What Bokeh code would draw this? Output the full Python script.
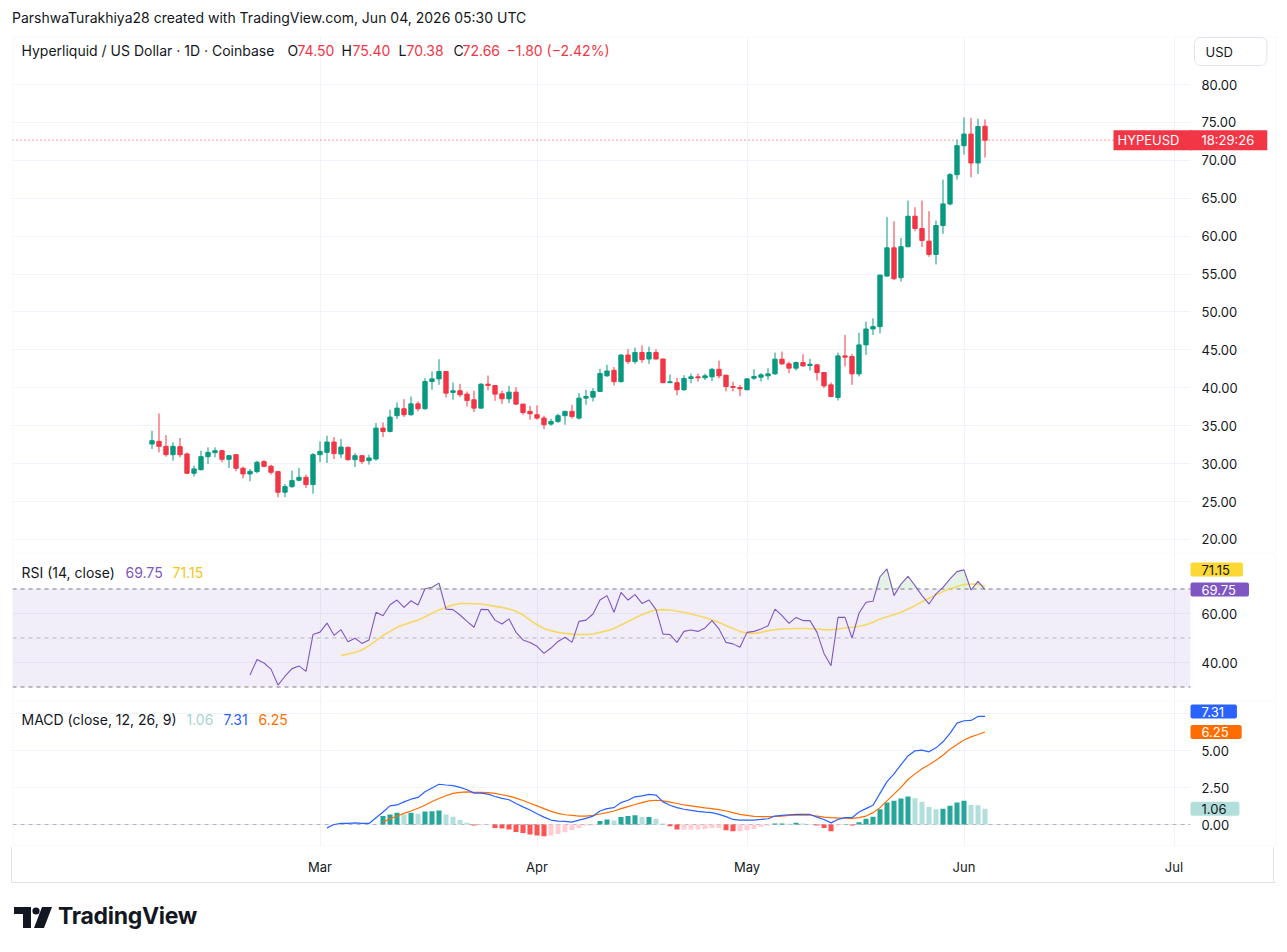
import math
import numpy as np
import pandas as pd
from bokeh.plotting import figure
from bokeh.layouts import column
from bokeh.models import (Range1d, FixedTicker, DatetimeTickFormatter, Grid, Label, Span,
                          BoxAnnotation, ColumnDataSource, Div)
from bokeh.core.properties import value
from bokeh.embed import file_html
from bokeh.resources import INLINE

# ------------------------------------------------------------------ data
start_date = "2026-02-05"
opens = [32.59, 32.94, 32.28, 31.18, 32.24, 31.27, 28.73, 29.21, 30.92, 31.45,
         31.71, 30.57, 31.18, 29.39, 28.64, 28.95, 30.26, 29.65, 28.95, 26.23,
         26.97, 27.81, 28.20, 27.24, 31.18, 31.49, 32.85, 31.27, 32.15, 30.53,
         31.05, 30.39, 30.61, 34.69, 34.25, 36.32, 37.24, 36.45, 37.89, 37.24,
         40.83, 41.18, 42.15, 39.39, 39.61, 39.17, 38.42, 37.32, 40.48, 40.31,
         39.21, 38.55, 39.43, 37.85, 36.89, 36.45, 36.01, 35.22, 35.57, 36.32,
         36.89, 36.01, 38.64, 38.77, 39.53, 41.58, 42.31, 40.81, 44.32, 43.46,
         44.66, 43.80, 44.66, 43.80, 40.68, 40.68, 39.74, 41.24, 41.45, 41.32,
         41.45, 42.44, 41.67, 40.17, 40.04, 39.74, 41.27, 41.40, 41.58, 41.84,
         43.77, 43.16, 42.59, 43.33, 42.94, 43.03, 42.02, 40.39, 38.73, 44.21,
         44.12, 41.84, 45.66, 47.76, 48.07, 54.74, 58.46, 54.52, 58.60, 62.63,
         61.01, 59.34, 57.59, 61.40, 64.25, 68.11, 71.93, 73.46, 69.65, 74.50]
highs = [34.34, 36.62, 33.77, 32.81, 33.38, 31.49, 29.74, 31.71, 32.15, 32.15,
         31.80, 31.10, 31.27, 29.61, 29.30, 30.39, 30.48, 29.87, 29.00, 27.32,
         29.08, 29.43, 28.55, 31.40, 32.94, 33.68, 33.51, 33.25, 32.28, 31.40,
         31.05, 31.18, 35.35, 35.44, 37.11, 38.07, 38.51, 38.86, 38.20, 41.27,
         42.15, 43.77, 42.20, 40.70, 40.53, 39.52, 39.61, 40.61, 41.62, 40.35,
         39.65, 40.26, 40.09, 37.90, 37.63, 37.68, 36.32, 35.92, 36.58, 36.97,
         37.76, 39.30, 39.74, 39.96, 42.52, 43.03, 42.74, 44.44, 45.09, 45.30,
         45.60, 45.43, 45.09, 43.85, 41.75, 41.32, 41.67, 41.88, 41.88, 41.88,
         42.61, 43.59, 41.70, 40.81, 40.38, 41.27, 42.46, 41.93, 42.59, 44.65,
         44.78, 43.46, 43.46, 44.43, 43.82, 43.10, 42.05, 40.70, 44.65, 46.97,
         44.47, 47.28, 48.73, 49.17, 54.90, 62.50, 61.97, 59.78, 64.69, 63.82,
         64.69, 63.29, 62.06, 67.46, 68.33, 72.72, 75.66, 75.57, 75.48, 75.40]
lows = [31.93, 31.49, 30.92, 30.39, 30.83, 28.70, 28.29, 29.08, 29.96, 30.83,
        30.18, 29.43, 28.99, 28.07, 27.68, 28.73, 29.52, 28.55, 25.57, 25.57,
        26.80, 27.68, 26.80, 26.05, 30.18, 30.09, 30.61, 30.75, 30.39, 29.56,
        29.96, 29.87, 30.39, 33.51, 34.12, 35.88, 36.14, 36.32, 36.89, 37.10,
        39.74, 40.39, 38.73, 38.42, 38.77, 37.54, 36.80, 37.25, 39.65, 38.29,
        37.89, 37.98, 37.76, 36.45, 35.79, 35.79, 34.56, 35.00, 35.35, 35.13,
        35.92, 35.79, 37.76, 38.20, 39.44, 41.45, 40.30, 40.70, 43.16, 43.16,
        43.29, 43.16, 43.72, 40.60, 40.60, 39.02, 39.62, 40.60, 40.81, 41.03,
        40.90, 41.24, 39.53, 39.53, 38.89, 39.70, 41.05, 40.83, 41.05, 41.71,
        43.03, 41.93, 42.28, 42.81, 42.28, 40.96, 39.96, 38.77, 38.33, 42.81,
        40.39, 41.49, 44.34, 46.97, 47.19, 54.65, 54.21, 53.99, 58.55, 60.66,
        58.55, 57.28, 56.27, 60.31, 64.04, 67.46, 70.75, 67.76, 68.20, 70.38]
closes = [33.03, 32.28, 31.18, 32.28, 31.18, 28.73, 29.30, 30.92, 31.49, 31.71,
          30.57, 31.05, 29.39, 28.64, 28.99, 30.18, 29.65, 28.86, 26.23, 26.97,
          27.76, 28.20, 27.24, 31.18, 31.62, 32.85, 31.32, 32.19, 30.53, 31.05,
          30.31, 30.75, 34.69, 34.25, 36.14, 37.32, 36.45, 37.89, 37.24, 40.83,
          41.18, 42.15, 39.30, 39.61, 39.08, 38.33, 37.32, 40.48, 40.31, 39.17,
          38.55, 39.43, 37.85, 36.75, 36.58, 36.01, 35.13, 35.57, 36.32, 36.89,
          36.23, 38.64, 38.86, 39.52, 41.90, 42.22, 40.81, 44.32, 43.46, 44.66,
          43.72, 44.66, 43.80, 40.68, 40.81, 39.74, 41.24, 41.45, 41.32, 41.58,
          42.44, 41.58, 40.17, 40.04, 39.87, 41.18, 41.49, 41.71, 41.84, 43.77,
          43.16, 42.59, 43.33, 42.89, 43.11, 42.02, 40.26, 38.86, 44.21, 44.04,
          41.84, 45.66, 47.76, 48.07, 54.87, 58.46, 54.39, 58.60, 62.63, 61.01,
          59.43, 57.59, 61.40, 64.25, 68.11, 71.93, 73.46, 69.65, 74.46, 72.66]

# RSI(14) from bar 14, its MA from bar 27
rsi_start = 14
rsi_vals = [34.9, 41.2, 39.8, 37.3, 30.8, 34.4, 37.5, 38.6, 36.4, 51.4,
            52.4, 56.1, 51.1, 53.4, 48.5, 49.9, 47.8, 49.2, 60.5, 59.1,
            63.6, 65.5, 62.5, 65.2, 63.5, 70.1, 70.7, 72.4, 61.8, 61.6,
            59.4, 56.8, 54.4, 61.7, 61.6, 57.3, 55.7, 57.8, 52.3, 49.2,
            48.2, 46.6, 43.7, 45.9, 48.6, 50.3, 48.2, 56.8, 57.3, 59.8,
            65.5, 67.3, 60.5, 68.6, 65.5, 67.7, 64.1, 65.5, 61.6, 51.6,
            51.4, 48.2, 52.7, 53.3, 52.7, 54.1, 57.1, 53.7, 48.2, 47.6,
            46.2, 52.3, 52.7, 53.7, 55.0, 61.8, 59.1, 56.0, 58.4, 57.1,
            57.1, 52.3, 43.7, 38.7, 58.4, 58.4, 50.0, 60.1, 64.6, 65.0,
            75.0, 78.2, 67.3, 72.0, 75.2, 71.4, 67.3, 63.9, 68.0, 70.7,
            74.1, 77.1, 77.8, 69.6, 73.1, 69.75]
rsi_ma_start = 27
rsi_ma_vals = [42.8, 43.5, 44.1, 45.1, 46.9, 48.9, 51.0, 52.7, 54.4, 55.4,
               56.4, 57.3, 58.7, 60.1, 61.4, 62.5, 63.5, 64.1, 64.1, 64.0,
               63.9, 63.5, 62.9, 62.5, 61.8, 60.9, 59.4, 57.3, 55.4, 53.9,
               53.0, 52.3, 51.9, 51.6, 51.4, 51.4, 51.6, 52.3, 53.0, 53.9,
               55.3, 56.7, 58.2, 59.5, 60.7, 61.4, 61.6, 61.4, 60.9, 60.5,
               59.8, 59.1, 58.4, 57.3, 56.4, 55.0, 53.9, 52.7, 51.9, 51.9,
               52.3, 53.0, 53.4, 53.7, 53.8, 53.9, 53.9, 53.8, 53.7, 53.4,
               53.3, 53.7, 54.1, 54.4, 54.8, 55.4, 56.4, 57.8, 58.7, 59.5,
               60.5, 61.8, 63.2, 64.8, 66.2, 67.6, 69.0, 70.0, 71.0, 71.8,
               72.0, 72.0, 71.15]
# MACD(12, 26, 9)
macd_start = 25
macd_vals = [-0.23, 0.00, 0.07, 0.07, 0.11, 0.07, 0.07, 0.46, 0.84, 1.26,
             1.32, 1.53, 1.71, 1.83, 2.21, 2.47, 2.72, 2.67, 2.63, 2.51,
             2.35, 2.12, 2.12, 2.05, 1.89, 1.76, 1.67, 1.42, 1.19, 0.98,
             0.73, 0.50, 0.30, 0.23, 0.21, 0.16, 0.30, 0.41, 0.57, 0.91,
             1.07, 1.14, 1.48, 1.64, 1.87, 1.94, 2.03, 1.99, 1.53, 1.30,
             1.14, 1.03, 0.96, 0.89, 0.84, 0.80, 0.68, 0.53, 0.34, 0.30,
             0.30, 0.30, 0.34, 0.39, 0.57, 0.62, 0.66, 0.68, 0.68, 0.68,
             0.50, 0.34, 0.11, 0.34, 0.46, 0.46, 0.84, 1.07, 1.30, 2.10,
             2.90, 3.42, 4.04, 4.63, 4.98, 5.02, 4.91, 5.18, 5.59, 6.16,
             6.85, 7.01, 7.03, 7.30, 7.31]
signal_start = 33
signal_vals = [0.16, 0.39, 0.57, 0.75, 0.91, 1.10, 1.30, 1.55, 1.76, 1.94,
               2.10, 2.17, 2.21, 2.17, 2.17, 2.15, 2.10, 2.01, 1.92, 1.78,
               1.62, 1.44, 1.26, 1.07, 0.89, 0.75, 0.66, 0.62, 0.57, 0.57,
               0.62, 0.71, 0.80, 0.91, 1.07, 1.21, 1.35, 1.48, 1.60, 1.64,
               1.60, 1.51, 1.42, 1.32, 1.26, 1.19, 1.12, 1.07, 1.00, 0.91,
               0.80, 0.68, 0.62, 0.55, 0.53, 0.53, 0.55, 0.57, 0.62, 0.64,
               0.64, 0.64, 0.57, 0.50, 0.46, 0.43, 0.43, 0.41, 0.46, 0.57,
               0.80, 1.14, 1.60, 2.05, 2.51, 3.04, 3.42, 3.77, 4.04, 4.34,
               4.68, 5.09, 5.41, 5.71, 5.92, 6.08, 6.25]
hist_vals = [0.57, 0.68, 0.80, 0.68, 0.80, 0.73, 0.87, 0.89, 0.94, 0.68,
             0.53, 0.30, 0.11, -0.07, -0.05, -0.02, -0.23, -0.27, -0.34, -0.50,
             -0.57, -0.68, -0.75, -0.80, -0.75, -0.64, -0.53, -0.39, -0.23, -0.07,
             -0.05, 0.23, 0.34, 0.27, 0.50, 0.57, 0.62, 0.50, 0.50, 0.39,
             0.07, -0.11, -0.34, -0.34, -0.34, -0.34, -0.30, -0.23, -0.23, -0.39,
             -0.46, -0.46, -0.39, -0.30, -0.16, -0.07, 0.07, 0.07, 0.05, 0.11,
             0.07, 0.02, -0.07, -0.23, -0.46, -0.07, 0.02, -0.07, 0.16, 0.39,
             0.53, 1.03, 1.48, 1.60, 1.76, 1.89, 1.78, 1.53, 1.19, 1.03,
             1.07, 1.26, 1.48, 1.60, 1.32, 1.30, 1.06]

price_ticks = [20, 25, 30, 35, 40, 45, 50, 55, 60, 65, 70, 75, 80]
rsi_ticks = [40, 60]
macd_ticks = [0, 2.5, 5]
macd_grid = [0, 2.5, 5, 7.5]
month_starts = ["2026-03-01", "2026-04-01", "2026-05-01", "2026-06-01", "2026-07-01"]

header = "ParshwaTurakhiya28 created with TradingView.com, Jun 04, 2026 05:30 UTC"
symbol_text = "Hyperliquid / US Dollar \u00b7 1D \u00b7 Coinbase"
countdown = "18:29:26"

# ------------------------------------------------------------------ style / layout helpers
FONT = "Inter"
TEXT = "#131722"
UP = "#089981"
DOWN = "#f23645"
GRID = "#f0f3fa"
BORDER = "#e0e3eb"
W = 1284
DAY = 86400000.0
MAR1 = pd.Timestamp("2026-03-01").value / 1e6


def px2x(px):      # screen column -> time (layout only)
    return MAR1 + (px - 319.5) / 7.0 * DAY


def py_main(py):   # screen row -> price (layout only)
    return 80 - (py - 84) / 7.583


def py_rsi(py):
    return 50 - (py - 637.5) / 2.45


def py_macd(py):
    return (824 - py) / 14.8


n = len(closes)
dates = pd.date_range(start_date, periods=n, freq="D")
xs = dates.asi8 / 1e6
month_ms = [pd.Timestamp(m).value / 1e6 for m in month_starts]


def pad_series(start, vals):
    out = np.full(n, np.nan)
    out[start:start + len(vals)] = vals
    return out


rsi = pad_series(rsi_start, rsi_vals)
rsi_ma = pad_series(rsi_ma_start, rsi_ma_vals)
macd = pad_series(macd_start, macd_vals)
signal = pad_series(signal_start, signal_vals)

xr = Range1d(px2x(12), px2x(1276))
AX_X = px2x(1201)


def make_fig(h, yr, grid_ticks, bottom=0, xaxis=False):
    f = figure(width=W, height=h, x_range=xr, y_range=yr, x_axis_type="datetime",
               x_axis_location="below" if xaxis else None, y_axis_location=None,
               min_border_left=12, min_border_right=W - 1276, min_border_top=0,
               min_border_bottom=bottom,
               output_backend="svg", toolbar_location=None, tools="",
               background_fill_color="white", border_fill_color="white", outline_line_color=None)
    f.grid.visible = False
    f.add_layout(Grid(dimension=0, ticker=FixedTicker(ticks=month_ms), grid_line_color=GRID))
    f.add_layout(Grid(dimension=1, ticker=FixedTicker(ticks=grid_ticks), grid_line_color=GRID))
    return f


def cover_scale(f, top, bottom):
    # keep the price-scale column clean of grid lines
    f.add_layout(BoxAnnotation(left=px2x(1190), right=px2x(1290), top=top, bottom=bottom,
                               fill_color="white", fill_alpha=1, line_color=None,
                               level="underlay"))


def scale_labels(f, ticks):
    f.text(x=[AX_X] * len(ticks), y=ticks, text=[f"{t:.2f}" for t in ticks],
           text_font=value(FONT), text_font_size=value("13px"), text_color=TEXT,
           text_align="left", text_baseline="middle")


def borders(f, top, bottom):
    f.add_layout(BoxAnnotation(left=px2x(12.5), right=px2x(1275.5), top=top, bottom=bottom,
                               fill_alpha=0, line_color=BORDER, line_width=1, level="overlay"))


def label(fig, x, y, text, color=TEXT, size="14px", style="normal", bg=None, pad=None,
          border=None, radius=0):
    kw = dict(x=x, y=y, text=text, text_color=color, text_font=FONT, text_font_size=size,
              text_font_style=style, text_align="left", text_baseline="middle")
    if bg:
        kw.update(background_fill_color=bg, background_fill_alpha=1.0)
    if pad is not None:
        kw["padding"] = pad
    if border:
        kw.update(border_line_color=border, border_line_width=1)
    if radius:
        kw["border_radius"] = radius
    fig.add_layout(Label(**kw))


TAGPAD = dict(left=11, right=13, top=2, bottom=2)

# ------------------------------------------------------------------ header
head = Div(text=f'<div style="padding:9px 0 0 12px;font-family:Inter,sans-serif;'
                f'font-size:14px;line-height:18px;color:{TEXT};white-space:nowrap;">{header}</div>',
           width=W, height=36, margin=0)

# ------------------------------------------------------------------ main pane
p = make_fig(516, Range1d(py_main(552), py_main(36)), price_ticks)
p.add_layout(Span(location=closes[-1], dimension="width", line_color=DOWN,
                  line_dash="1 3", line_width=1, level="underlay"))
cover_scale(p, py_main(30), py_main(560))
colors = [UP if c >= o else DOWN for o, c in zip(opens, closes)]
src = ColumnDataSource(dict(x=xs, h=highs, l=lows,
                            top=np.maximum(opens, closes), bot=np.minimum(opens, closes),
                            color=colors))
p.segment(x0="x", y0="h", x1="x", y1="l", line_color="color", line_width=1, source=src)
p.vbar(x="x", width=0.62 * DAY, top="top", bottom="bot", fill_color="color",
       line_color="color", line_width=1, source=src)
scale_labels(p, price_ticks)
borders(p, py_main(36.5), py_main(600))

label(p, px2x(21), py_main(50), symbol_text)
chg = closes[-1] - closes[-2]
pct = chg / closes[-2] * 100
segs = [("O", 287, TEXT), (f"{opens[-1]:.2f}", 297, DOWN),
        ("H", 341, TEXT), (f"{highs[-1]:.2f}", 352, DOWN),
        ("L", 398, TEXT), (f"{lows[-1]:.2f}", 406, DOWN),
        ("C", 453, TEXT), (f"{closes[-1]:.2f}", 462, DOWN),
        (f"{chg:+.2f} ({pct:+.2f}%)".replace("-", "\u2212").replace("+", ""), 506, DOWN)]
for t, px, col in segs:
    label(p, px2x(px), py_main(50), t, color=col)

label(p, px2x(1194), py_main(51), "USD", size="13px",
      pad=dict(left=11, right=34, top=6, bottom=6), border=BORDER, radius=6)
label(p, px2x(1113), closes[-1], "HYPEUSD", color="white", size="13px", bg=DOWN,
      pad=dict(left=4, right=13, top=2, bottom=2))
label(p, px2x(1190), closes[-1], countdown, color="white", size="13px", bg=DOWN,
      pad=dict(left=11, right=13, top=2, bottom=2))

# ------------------------------------------------------------------ RSI pane
r = make_fig(148, Range1d(py_rsi(700), py_rsi(552)), rsi_ticks)
r.add_layout(BoxAnnotation(bottom=30, top=70, right=px2x(1190), fill_color="#7e57c2",
                           fill_alpha=0.1, line_color=None, level="underlay"))
for lvl, a in ((70, 1.0), (50, 0.5), (30, 1.0)):
    r.add_layout(Span(location=lvl, dimension="width", line_color="#787b86", line_alpha=a,
                      line_dash="4 4", line_width=1, level="underlay"))
cover_scale(r, py_rsi(540), py_rsi(710))
r.varea(x=xs, y1=np.full(n, 70.0), y2=np.where(rsi > 70, rsi, 70.0),
        fill_color="#4caf50", fill_alpha=0.15)
r.line(xs, rsi_ma, line_color="#f7d54a", line_width=1.6, line_alpha=0.85)
r.line(xs, rsi, line_color="#7e57c2", line_width=1.1)
scale_labels(r, rsi_ticks)
borders(r, py_rsi(552.5), py_rsi(760))
label(r, px2x(21), py_rsi(572), "RSI (14, close)")
label(r, px2x(125), py_rsi(572), f"{rsi_vals[-1]:.2f}", color="#7e57c2")
label(r, px2x(172), py_rsi(572), f"{rsi_ma_vals[-1]:.2f}", color="#f5c518")
label(r, px2x(1190), py_rsi(569), f"{rsi_ma_vals[-1]:.2f}", size="13px", bg="#fdd835",
      pad=TAGPAD, radius=2)
label(r, px2x(1190), rsi_vals[-1], f"{rsi_vals[-1]:.2f}", color="white", size="13px",
      bg="#7e57c2", pad=TAGPAD, radius=2)

# ------------------------------------------------------------------ MACD pane
m = make_fig(182, Range1d(py_macd(846), py_macd(700)), macd_grid, bottom=36, xaxis=True)
xa = m.xaxis[0]
xa.ticker = FixedTicker(ticks=month_ms)
fmt = "%b"
xa.formatter = DatetimeTickFormatter(days=fmt, months=fmt, years=fmt, hours=fmt,
                                     minutes=fmt, hourmin=fmt, seconds=fmt)
xa.axis_line_color = None
xa.major_tick_line_color = None
xa.minor_tick_line_color = None
xa.major_tick_out = 0
xa.major_label_standoff = 12
xa.major_label_text_font = FONT
xa.major_label_text_font_size = "13px"
xa.major_label_text_color = TEXT

hist = np.array(hist_vals)
hcolors = []
prev = None
for hv in hist:
    rising = prev is None or hv >= prev
    if hv >= 0:
        hcolors.append("#26a69a" if rising else "#b2dfdb")
    else:
        hcolors.append("#ffcdd2" if rising else "#ff5252")
    prev = hv
hx = xs[signal_start:signal_start + len(hist)]
m.add_layout(Span(location=0, dimension="width", line_color="#787b86", line_alpha=0.5,
                  line_dash="4 4", line_width=1, level="underlay"))
cover_scale(m, py_macd(690), py_macd(860))
m.vbar(x=hx, width=0.72 * DAY, top=np.maximum(hist, 0), bottom=np.minimum(hist, 0),
       fill_color=hcolors, line_color=None)
m.line(xs, signal, line_color="#ff6d00", line_width=1.2)
m.line(xs, macd, line_color="#2962ff", line_width=1.2)
scale_labels(m, macd_ticks)
borders(m, py_macd(700.5), py_macd(845.5))
label(m, px2x(21), py_macd(719), "MACD (close, 12, 26, 9)")
label(m, px2x(186), py_macd(719), f"{hist_vals[-1]:.2f}", color="#a5d6d0")
label(m, px2x(223), py_macd(719), f"{macd_vals[-1]:.2f}", color="#2962ff")
label(m, px2x(258), py_macd(719), f"{signal_vals[-1]:.2f}", color="#ff6d00")
label(m, px2x(1190), py_macd(711), f"{macd_vals[-1]:.2f}", color="white", size="13px",
      bg="#2962ff", pad=TAGPAD, radius=2)
label(m, px2x(1190), signal_vals[-1], f"{signal_vals[-1]:.2f}", color="white", size="13px",
      bg="#ff6d00", pad=TAGPAD, radius=2)
label(m, px2x(1190), hist_vals[-1], f"{hist_vals[-1]:.2f}", size="13px",
      bg="#b2dfdb", pad=TAGPAD, radius=2)

# ------------------------------------------------------------------ footer (logo + wordmark)
logo_svg = (f'<svg width="40" height="22" viewBox="0 0 40 22" '
            f'style="position:absolute;left:3px;top:24px;">'
            f'<path d="M0 0 H17 V21 H9 V7 H0 Z" fill="{TEXT}"/>'
            f'<circle cx="22" cy="4" r="3.6" fill="{TEXT}"/>'
            f'<path d="M28 0 H38 L30 21 H20 Z" fill="{TEXT}"/></svg>')
sides = (f'<div style="position:absolute;left:0;top:-36px;width:1263px;height:36px;'
         f'border-left:1px solid {BORDER};border-right:1px solid {BORDER};"></div>')
foot = Div(text=(f'<div style="position:relative;margin-left:11px;width:1265px;height:61px;'
                 f'border-top:1px solid {BORDER};">{sides}{logo_svg}'
                 f'<span style="position:absolute;left:47px;top:19px;font-family:Inter,sans-serif;'
                 f'font-weight:700;font-size:23px;line-height:28px;color:{TEXT};'
                 f'letter-spacing:-0.3px;">TradingView</span></div>'),
           width=W, height=62, margin=0)

layout = column(head, p, r, m, foot, spacing=0)
open("out.html", "w").write(file_html(layout, INLINE, title="HYPEUSD"))
